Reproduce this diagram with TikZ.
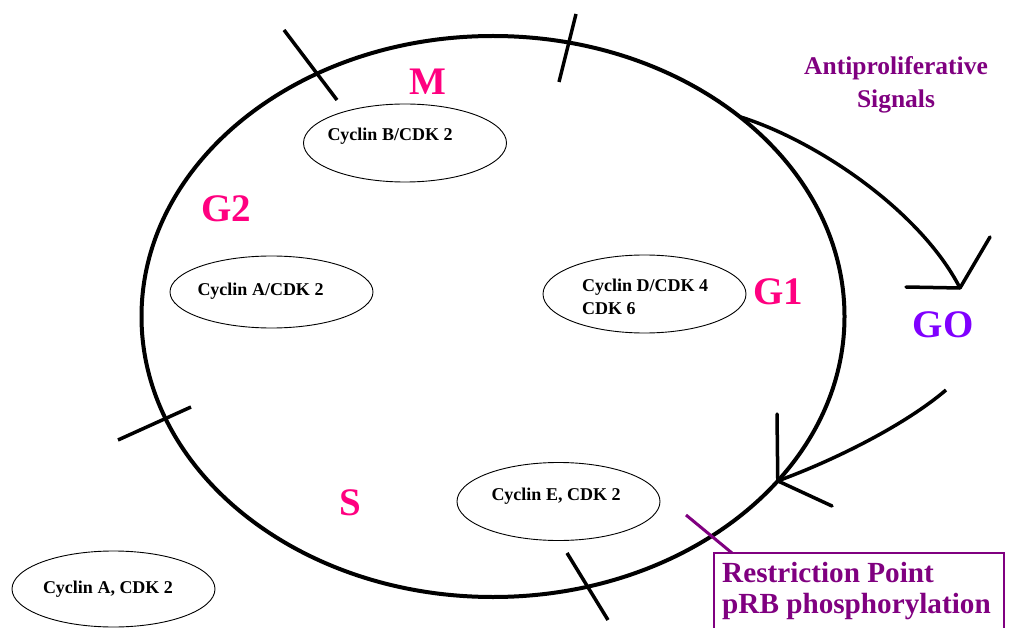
\documentclass[tikz,border=0pt]{standalone}
\usepackage{fontspec}
\setmainfont{Liberation Serif}
\usetikzlibrary{shapes.geometric}
\definecolor{phasepink}{RGB}{255,0,128}
\definecolor{sigpurple}{RGB}{128,0,128}
\definecolor{quiescent}{RGB}{128,0,255}

\begin{document}
\begin{tikzpicture}[x=1pt,y=-1pt,
  cyclering/.style={draw, ellipse, line width=4pt, inner sep=0pt, outer sep=0pt,
    minimum width=703pt, minimum height=561pt},
  complex/.style={draw, ellipse, line width=0.9pt, inner sep=0pt, outer sep=0pt,
    minimum width=203pt, minimum height=78pt},
  cyctext/.style={font=\bfseries\fontsize{18}{24}\selectfont, inner sep=0pt, align=left},
  phase/.style={text=phasepink, font=\bfseries\fontsize{39}{39}\selectfont, inner sep=0pt},
  tick/.style={line width=3.5pt},
  conn/.style={line width=3.5pt},
  headline/.style={line width=3.5pt, line cap=round},
  signal/.style={text=sigpurple, font=\bfseries\fontsize{25.5}{33}\selectfont, inner sep=0pt, align=center},
  restrict/.style={text=sigpurple, font=\bfseries\fontsize{29.2}{31}\selectfont, inner sep=0pt, align=left}]

\fill[white] (0,0) rectangle (1017,628);
\useasboundingbox (0,0) rectangle (1017,628);

% the cell cycle
\node[cyclering] (cycle) at (493,316.5) {};

% phase boundaries
\draw[tick] (284,30) -- (337,100);
\draw[tick] (576,14) -- (559,82);
\draw[tick] (118,440) -- (191,407);
\draw[tick] (567,553) -- (608,620);

% cyclin / CDK complexes (base anchor of a multi-line node is its last line)
\node[complex] (cycB) at (405,143) {};
\node[cyctext, anchor=base] (cycBt) at (390,141) {Cyclin B/CDK 2};

\node[complex, minimum height=72pt] (cycA) at (271.5,292) {};
\node[cyctext, anchor=base] (cycAt) at (260.5,295) {Cyclin A/CDK 2};

\node[complex] (cycD) at (644.5,294) {};
\node[cyctext, anchor=base west] (cycDt) at (582,315) {Cyclin D/CDK 4\\CDK 6};

\node[complex] (cycE) at (558.5,501.5) {};
\node[cyctext, anchor=base] (cycEt) at (556,500) {Cyclin E, CDK 2};

\node[complex, minimum height=76pt] (cycA2) at (113.5,589) {};
\node[cyctext, anchor=base] (cycA2t) at (108,593) {Cyclin A, CDK 2};

% phase names
\node[phase] (phM) at (428,82) {M};
\node[phase] (phG2) at (226,209) {G2};
\node[phase] (phG1) at (778,292) {G1};
\node[phase] (phS) at (350,503) {S};
\node[phase, text=quiescent] (phG0) at (943,325) {GO};

% exit to G0
\node[signal, anchor=base] (antip) at (896,108) {Antiproliferative\\Signals};
\coordinate (gotip) at (960,288);
\draw[conn] (cycle.39.6) .. controls (815,140) and (920,210) .. (gotip);
\draw[headline] (gotip) -- (990,237);
\draw[headline] (gotip) -- (906,287);

% re-entry from G0
\coordinate (gostart) at (946,390);
\coordinate (reentry) at (cycle.-30.7);
\draw[conn] (gostart) .. controls (905,425) and (835,460) .. (reentry);
\draw[headline] (reentry) -- (777,414);
\draw[headline] (reentry) -- (832,506);

% restriction point
\node[restrict, anchor=base west] (rpoint) at (722,613) {Restriction Point\\pRB phosphorylation};
\coordinate (rtick) at (686,515);
\draw[sigpurple, line width=3pt] (rtick) -- (732,553);
\draw[sigpurple, line width=1.5pt] (714,640) -- (714,553) -- (1004,553) -- (1004,640);

\end{tikzpicture}
\end{document}
